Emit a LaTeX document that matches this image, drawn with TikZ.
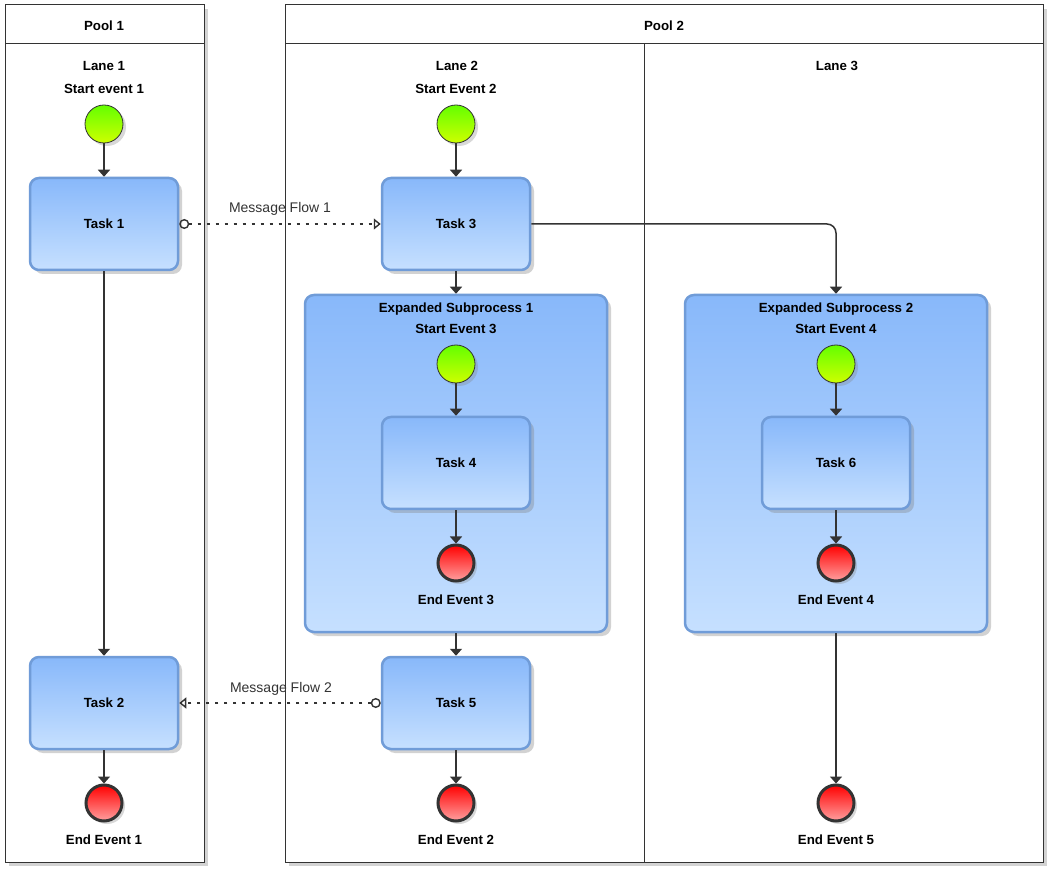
\documentclass[tikz,border=0pt]{standalone}
\usepackage{fontspec}
\setmainfont{Liberation Sans}
\usepackage{tikz}
\definecolor{taskTop}{RGB}{136, 184, 250}
\definecolor{taskBot}{RGB}{198, 224, 255}
\definecolor{taskEdge}{RGB}{112, 156, 216}
\definecolor{startTop}{RGB}{100, 255, 0}
\definecolor{startBot}{RGB}{206, 255, 0}
\definecolor{endTop}{RGB}{255, 0, 0}
\definecolor{endBot}{RGB}{255, 160, 160}
\definecolor{ink}{RGB}{51, 51, 51}
\usetikzlibrary{positioning}
\usetikzlibrary{arrows.meta}
\usetikzlibrary{shadows}

\begin{document}
\begin{tikzpicture}[
  every node/.style={inner sep=0pt, font=\bfseries\fontsize{13.3}{15}\selectfont},
  pool/.style={rectangle, draw=ink, line width=1pt, fill=white, drop shadow={shadow xshift=4pt, shadow yshift=-4pt, opacity=0.35}},
  taskbox/.style={rectangle, rounded corners=9pt, minimum width=148pt, minimum height=92pt, top color=taskTop, bottom color=taskBot, draw=taskEdge, line width=2.5pt, drop shadow={shadow xshift=4pt, shadow yshift=-4pt, opacity=0.35}},
  subbox/.style={taskbox, minimum width=302pt, minimum height=337pt},
  startev/.style={circle, minimum size=38pt, top color=startTop, bottom color=startBot, draw=ink, line width=0.8pt, drop shadow={shadow xshift=3pt, shadow yshift=-3pt, opacity=0.3}},
  endev/.style={circle, minimum size=36pt, top color=endTop, bottom color=endBot, draw=ink, line width=3pt, drop shadow={shadow xshift=3pt, shadow yshift=-3pt, opacity=0.3}},
  flow/.style={line width=1.5pt, color=ink, -{Triangle[length=7pt, width=12pt]}},
  msgflow/.style={line width=1.4pt, color=ink, dash pattern=on 3pt off 6pt, {Circle[open, length=10pt, width=10pt, sep=0pt]}-{Triangle[open, length=7pt, width=11pt]}},
  msglabel/.style={font=\fontsize{14}{16}\selectfont, color=ink}
]
\useasboundingbox (0pt, 0pt) rectangle (1053pt, -874pt);
% pools and lanes
\node (p1) [pool, minimum width=199pt, minimum height=857pt] at (104.5pt, -433.5pt) {};
\node (p2) [pool, minimum width=758pt, minimum height=857pt] at (664pt, -433.5pt) {};
\draw [line width=1pt, color=ink] (5pt, -44pt) -- (204pt, -44pt);
\draw [line width=1pt, color=ink] (285pt, -44pt) -- (1043pt, -44pt);
\draw [line width=1pt, color=ink] (644pt, -44pt) -- (644pt, -862pt);
\node (p1t) at (104pt, -26pt) {Pool 1};
\node (p2t) at (664pt, -26pt) {Pool 2};
\node (l1t) at (104pt, -66pt) {Lane 1};
\node (l2t) at (457pt, -66pt) {Lane 2};
\node (l3t) at (837pt, -66pt) {Lane 3};
% subprocess boxes
\node (sp1) [subbox] at (456pt, -463.5pt) {};
\node (sp2) [subbox] at (836pt, -463.5pt) {};
\node (sp1t) at (456pt, -309pt) {Expanded Subprocess 1};
\node (sp2t) at (836pt, -309pt) {Expanded Subprocess 2};
% events
\node (s1) [startev] at (104pt, -124pt) {};
\node (s2) [startev] at (456pt, -124pt) {};
\node (s3) [startev] at (456pt, -364pt) {};
\node (s4) [startev] at (836pt, -364pt) {};
\node (s1t) at (104pt, -89pt) {Start event 1};
\node (s2t) at (456pt, -89pt) {Start Event 2};
\node (s3t) at (456pt, -329pt) {Start Event 3};
\node (s4t) at (836pt, -329pt) {Start Event 4};
\node (e1) [endev] at (104pt, -803pt) {};
\node (e2) [endev] at (456pt, -803pt) {};
\node (e3) [endev] at (456pt, -563pt) {};
\node (e4) [endev] at (836pt, -563pt) {};
\node (e5) [endev] at (836pt, -803pt) {};
\node (e1t) at (104pt, -840pt) {End Event 1};
\node (e2t) at (456pt, -840pt) {End Event 2};
\node (e3t) at (456pt, -600pt) {End Event 3};
\node (e4t) at (836pt, -600pt) {End Event 4};
\node (e5t) at (836pt, -840pt) {End Event 5};
% tasks
\node (t1) [taskbox] at (104pt, -224pt) {Task 1};
\node (t2) [taskbox] at (104pt, -703pt) {Task 2};
\node (t3) [taskbox] at (456pt, -224pt) {Task 3};
\node (t4) [taskbox] at (456pt, -463pt) {Task 4};
\node (t5) [taskbox] at (456pt, -703pt) {Task 5};
\node (t6) [taskbox] at (836pt, -463pt) {Task 6};
% sequence flows
\draw [flow] (s1) to (t1);
\draw [flow] (t1) to (t2);
\draw [flow] (t2) to (e1);
\draw [flow] (s2) to (t3);
\draw [flow] (t3) to (sp1);
\draw [flow] (s3) to (t4);
\draw [flow] (t4) to (e3);
\draw [flow] (sp1) to (t5);
\draw [flow] (t5) to (e2);
\draw [flow, rounded corners=9pt] (t3.east) -| (sp2.north);
\draw [flow] (s4) to (t6);
\draw [flow] (t6) to (e4);
\draw [flow] (sp2) to (e5);
% message flows
\draw [msgflow] (t1.east) to (t3.west);
\draw [msgflow] (t5.west) to (t2.east);
\node (m1t) [msglabel] at (280pt, -209pt) {Message Flow 1};
\node (m2t) [msglabel] at (281pt, -689pt) {Message Flow 2};
\end{tikzpicture}
\end{document}
